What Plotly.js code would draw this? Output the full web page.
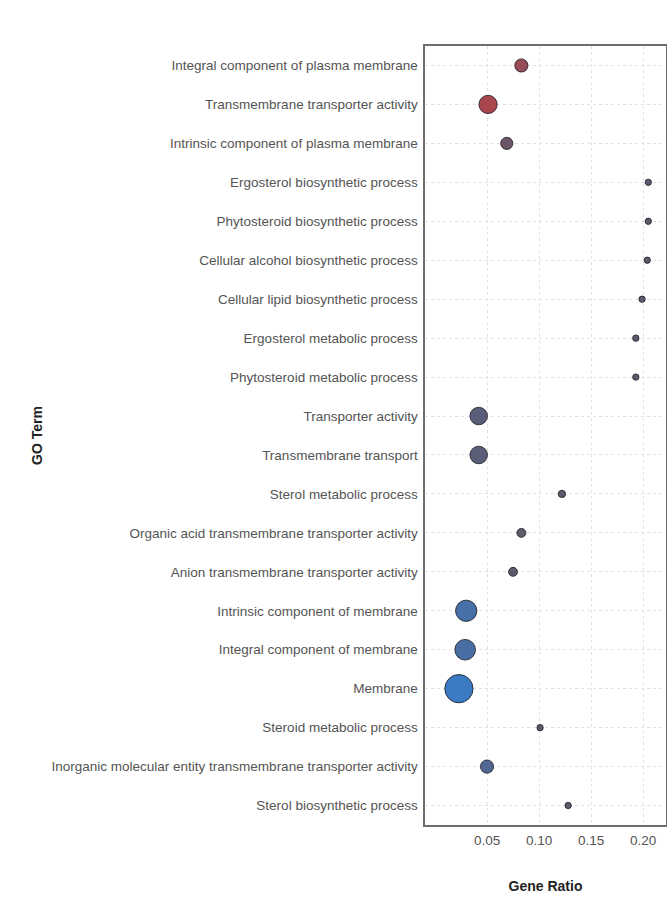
<!DOCTYPE html>
<html>
<head>
<meta charset="utf-8">
<script src="https://cdn.plot.ly/plotly-3.0.1.min.js"></script>
<style>
  html, body { margin: 0; padding: 0; background: #ffffff; overflow: hidden; }
  #chart { width: 667px; height: 898px; }
</style>
</head>
<body>
<div id="chart"></div>
<script>
// GO enrichment dot plot: gene ratio per term, dot size = gene count, colour = adjusted p-value
const goTerms = [
  "Integral component of plasma membrane",
  "Transmembrane transporter activity",
  "Intrinsic component of plasma membrane",
  "Ergosterol biosynthetic process",
  "Phytosteroid biosynthetic process",
  "Cellular alcohol biosynthetic process",
  "Cellular lipid biosynthetic process",
  "Ergosterol metabolic process",
  "Phytosteroid metabolic process",
  "Transporter activity",
  "Transmembrane transport",
  "Sterol metabolic process",
  "Organic acid transmembrane transporter activity",
  "Anion transmembrane transporter activity",
  "Intrinsic component of membrane",
  "Integral component of membrane",
  "Membrane",
  "Steroid metabolic process",
  "Inorganic molecular entity transmembrane transporter activity",
  "Sterol biosynthetic process"
];

const geneRatio = [
  0.083, 0.051, 0.069, 0.205, 0.205, 0.204, 0.199, 0.193, 0.193, 0.042,
  0.042, 0.122, 0.083, 0.075, 0.030, 0.029, 0.023, 0.101, 0.050, 0.128
];

const geneCount = [
  13, 25, 11, 3, 3, 3, 3, 3, 3, 23,
  23, 4, 6, 6, 34, 32, 60, 3, 13, 3
];

const pAdjust = [
  0.008, 0.002, 0.021, 0.024, 0.024, 0.024, 0.024, 0.024, 0.024, 0.028,
  0.028, 0.024, 0.025, 0.025, 0.041, 0.040, 0.049, 0.024, 0.035, 0.024
];

const xTickVals = [0.05, 0.10, 0.15, 0.20];
const xTickText = ["0.05", "0.10", "0.15", "0.20"];

const trace = {
  type: "scatter",
  mode: "markers",
  x: geneRatio,
  y: goTerms,
  marker: {
    size: geneCount,
    sizemode: "area",
    sizeref: 0.15,
    color: pAdjust,
    cmin: 0,
    cmax: 0.05,
    colorscale: [[0, "#B0444B"], [0.5, "#5E5A6E"], [1, "#3A7CC8"]],
    showscale: false,
    opacity: 1,
    line: { color: "rgba(25,25,30,0.8)", width: 1 }
  },
  hoverinfo: "x+y"
};

const tickFont = { family: "Liberation Sans, Arial, sans-serif", size: 13.5, color: "#545454" };
const titleFont = { family: "Liberation Sans, Arial, sans-serif", size: 14, color: "#222222", weight: "bold" };

const layout = {
  width: 667,
  height: 898,
  margin: { l: 425, r: 1, t: 46, b: 73, pad: 0 },
  paper_bgcolor: "#ffffff",
  plot_bgcolor: "#ffffff",
  showlegend: false,
  xaxis: {
    range: [-0.0096, 0.222],
    tickvals: xTickVals,
    ticktext: xTickText,
    tickfont: tickFont,
    ticks: "",
    ticklabelstandoff: 2,
    showgrid: true,
    gridcolor: "#E2E2E2",
    gridwidth: 1,
    griddash: "3px,3px",
    zeroline: false,
    showline: true,
    mirror: true,
    linecolor: "#6E6E6E",
    linewidth: 1.6,
    automargin: false,
    title: { text: "Gene Ratio", font: titleFont, standoff: 34 }
  },
  yaxis: {
    type: "category",
    categoryorder: "array",
    categoryarray: goTerms,
    range: [19.5, -0.5],
    tickfont: tickFont,
    ticks: "",
    ticklabelstandoff: 3,
    showgrid: true,
    gridcolor: "#E2E2E2",
    gridwidth: 1,
    griddash: "3px,3px",
    zeroline: false,
    showline: true,
    mirror: true,
    linecolor: "#6E6E6E",
    linewidth: 1.6,
    automargin: false,
    title: { text: "GO Term", font: titleFont, standoff: 5 }
  }
};

Plotly.newPlot("chart", [trace], layout, { displayModeBar: false, staticPlot: true });
</script>
</body>
</html>
